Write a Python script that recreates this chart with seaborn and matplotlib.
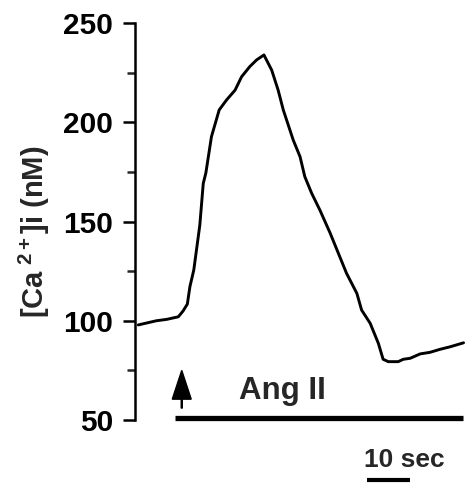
import numpy as np
import pandas as pd
import matplotlib
matplotlib.use('Agg')
import matplotlib.pyplot as plt
import seaborn as sns

# trace (time in sec, [Ca2+]i in nM)
time_s = [0.1, 2.1, 4.3, 6.7, 9.4, 10.5, 11.5, 12.1, 13.0, 14.4, 15.2, 15.8, 17.1,
          18.9, 20.6, 22.6, 24.1, 26.0, 27.6, 29.3, 31.1, 32.6, 33.8, 36.1, 37.7,
          38.8, 40.4, 42.3, 44.7, 46.6, 48.5, 50.9, 52.0, 54.0, 55.9, 57.0, 58.2,
          60.5, 61.7, 63.3, 65.6, 67.9, 70.2, 72.6, 75.7]
ca_nm = [97.9, 98.9, 100.0, 100.7, 102.0, 104.9, 108.4, 117.2, 125.6, 148.2, 169.2,
         174.4, 192.7, 206.2, 211.2, 216.2, 222.9, 228.0, 231.4, 233.9, 226.3, 216.2,
         206.2, 191.1, 182.6, 172.6, 164.2, 155.8, 144.1, 134.0, 123.9, 113.8, 105.4,
         98.7, 88.6, 80.6, 79.4, 79.4, 80.6, 81.1, 83.3, 84.1, 85.6, 86.9, 88.9]

drug_label = 'Ang II'
drug_on = 10.2       # arrow, sec
drug_span = [8.6, 75.6]
scale_label = '10 sec'
scale_bar = [53.3, 63.3]
yticks = [50, 100, 150, 200, 250]

df = pd.DataFrame({'t': time_s, 'ca': ca_nm})

sns.set_style('ticks')
plt.rcParams['font.family'] = ['Liberation Sans', 'DejaVu Sans']
plt.rcParams['font.weight'] = 'bold'
plt.rcParams['mathtext.fontset'] = 'custom'
plt.rcParams['mathtext.rm'] = 'Liberation Sans:bold'
plt.rcParams['mathtext.bf'] = 'Liberation Sans:bold'
plt.rcParams['mathtext.it'] = 'Liberation Sans:bold'

fig = plt.figure(figsize=(4.65, 4.83), dpi=100)
ax = fig.add_axes([0.290, 0.1304, 0.7097, 0.822])

sns.lineplot(data=df, x='t', y='ca', color='black', lw=2.1, ax=ax)

ax.set_xlim(-0.7, 76.0)
ax.set_ylim(50, 250)
ax.set_yticks(yticks)
ax.set_yticks([75, 125, 175, 225], minor=True)
ax.tick_params(axis='y', which='major', length=8.6, width=1.8, pad=7,
               labelsize=21.5, colors='black')
ax.tick_params(axis='y', which='minor', length=5.8, width=1.8)
for lab in ax.get_yticklabels():
    lab.set_fontweight('bold')
ax.set_xticks([])
ax.set_xlabel('')
for s in ['top', 'right', 'bottom']:
    ax.spines[s].set_visible(False)
ax.spines['left'].set_linewidth(1.8)
ax.spines['left'].set_color('black')

ax.set_ylabel(r'[Ca$^{\ 2+}$]i (nM)', fontsize=21, fontweight='bold')
ax.yaxis.set_label_coords(-0.252, 0.474)

# agonist application
ax.arrow(drug_on, 56, 0, 19, width=0.25, head_width=4.4, head_length=14.5,
         length_includes_head=True, color='black')
ax.plot(drug_span, [51.2, 51.2], color='black', lw=3.8, solid_capstyle='butt',
        clip_on=False)
ax.text(33.6, 60.6, drug_label, ha='center', va='baseline', fontsize=22.5,
        fontweight='bold')

# time scale bar
ax.plot(scale_bar, [20, 20], color='black', lw=3, solid_capstyle='butt',
        clip_on=False)
ax.text(61.9, 30, scale_label, ha='center', va='center', fontsize=19,
        fontweight='bold', clip_on=False)

fig.savefig('out.png', dpi=100)
